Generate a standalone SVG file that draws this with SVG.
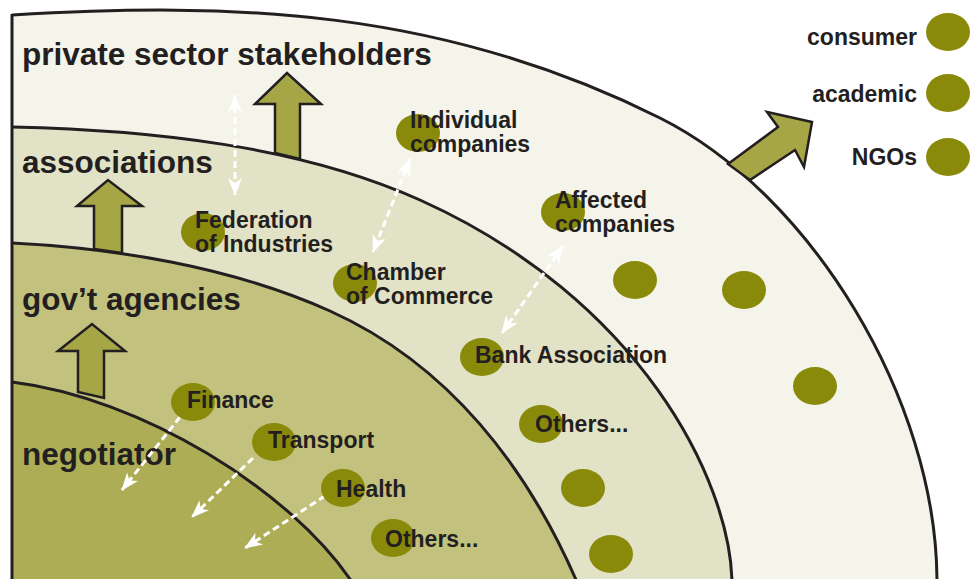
<svg xmlns="http://www.w3.org/2000/svg" width="970" height="579" viewBox="0 0 970 579">
<defs>
<style>
.t{font-family:"Liberation Sans",Arial,Helvetica,sans-serif;font-weight:bold;fill:#231f20}
.big{font-size:31.5px}
.lbl{font-size:23px}
.edge{fill:none;stroke:#231f20;stroke-width:3}
.blk{fill:#a6a646;stroke:#231f20;stroke-width:2.5;stroke-linejoin:miter}
.dot{fill:#8a8a0a}
.dash{fill:none;stroke:#ffffff;stroke-width:3;stroke-dasharray:7 4}
</style>
<marker id="ah" viewBox="0 0 18 14" refX="17" refY="7" markerWidth="18" markerHeight="14" markerUnits="userSpaceOnUse" orient="auto-start-reverse">
<path d="M0,0 L18,7 L0,14 L5,7Z" fill="#ffffff"/>
</marker>
</defs>
<rect width="970" height="579" fill="#ffffff"/>
<g id="region-private">
<path d="M12,15 C232,2 440,8 660,118 C810,193 937,399 937,582 L12,582Z" fill="#f4f4eb"/>
<path class="edge" d="M12,15 C232,2 440,8 660,118 C810,193 937,399 937,582"/>
<text class="t big" x="22" y="65">private sector stakeholders</text>
</g>
<g id="region-associations">
<path d="M12,127 C152,130 300,146 420,200 C640,299 730,480 732,582 L12,582Z" fill="#e2e2c6"/>
<path class="edge" d="M12,127 C152,130 300,146 420,200 C640,299 730,480 732,582"/>
<text class="t big" x="22" y="173">associations</text>
</g>
<g id="region-gov">
<path d="M12,243 C112,248 230,266 330,311 C450,365 528,469 577,582 L12,582Z" fill="#c2c27e"/>
<path class="edge" d="M12,243 C112,248 230,266 330,311 C450,365 528,469 577,582"/>
<text class="t big" x="22" y="310">gov’t agencies</text>
</g>
<g id="region-negotiator">
<path d="M12,382 C142,398 290,490 352,582 L12,582Z" fill="#adad55"/>
<path class="edge" d="M12,382 C142,398 290,490 352,582"/>
<text class="t big" x="22" y="465">negotiator</text>
</g>
<line x1="12" y1="14" x2="12" y2="579" stroke="#231f20" stroke-width="3"/>
<g id="connectors">
<polygon class="blk" points="275,153 275,104 255,104 287,73 321,104 300,104 300,159"/>
<polygon class="blk" points="94,249 94,206 77,206 108,180 142,206 122,206 122,253"/>
<polygon class="blk" points="78,392 78,351 58,351 92,324 125,351 104,351 104,398"/>
<polygon class="blk" points="728,164 778,127 767,112 812,122 804,167 795,150 750,180"/>
<line class="dash" x1="235" y1="95" x2="235" y2="195" marker-start="url(#ah)" marker-end="url(#ah)"/>
<line class="dash" x1="410" y1="159" x2="373" y2="252" marker-start="url(#ah)" marker-end="url(#ah)"/>
<line class="dash" x1="563" y1="246" x2="502" y2="333" marker-start="url(#ah)" marker-end="url(#ah)"/>
<line class="dash" x1="180" y1="417" x2="122" y2="490" marker-end="url(#ah)"/>
<line class="dash" x1="253" y1="458" x2="192" y2="517" marker-end="url(#ah)"/>
<line class="dash" x1="325" y1="496" x2="245" y2="548" marker-end="url(#ah)"/>
</g>
<g id="n-individual"><ellipse class="dot" cx="418" cy="133" rx="22" ry="19"/><text class="t lbl" x="410" y="128">Individual</text><text class="t lbl" x="410" y="152">companies</text></g>
<g id="n-federation"><ellipse class="dot" cx="203" cy="232" rx="22" ry="19"/><text class="t lbl" x="195" y="228">Federation</text><text class="t lbl" x="195" y="252">of Industries</text></g>
<g id="n-affected"><ellipse class="dot" cx="563" cy="212" rx="22" ry="19"/><text class="t lbl" x="555" y="208">Affected</text><text class="t lbl" x="555" y="232">companies</text></g>
<g id="n-chamber"><ellipse class="dot" cx="355" cy="283" rx="22" ry="19"/><text class="t lbl" x="346" y="280">Chamber</text><text class="t lbl" x="346" y="304">of Commerce</text></g>
<g id="n-bank"><ellipse class="dot" cx="482" cy="357" rx="22" ry="19"/><text class="t lbl" x="475" y="363">Bank Association</text></g>
<g id="n-others-assoc"><ellipse class="dot" cx="541" cy="424" rx="22" ry="19"/><text class="t lbl" x="535" y="432">Others...</text></g>
<g id="n-dot-a1"><ellipse class="dot" cx="583" cy="488" rx="22" ry="19"/></g>
<g id="n-dot-a2"><ellipse class="dot" cx="611" cy="554" rx="22" ry="19"/></g>
<g id="n-dot-p1"><ellipse class="dot" cx="635" cy="280" rx="22" ry="19"/></g>
<g id="n-dot-p2"><ellipse class="dot" cx="744" cy="290" rx="22" ry="19"/></g>
<g id="n-dot-p3"><ellipse class="dot" cx="815" cy="386" rx="22" ry="19"/></g>
<g id="n-finance"><ellipse class="dot" cx="193" cy="402" rx="22" ry="19"/><text class="t lbl" x="187" y="408">Finance</text></g>
<g id="n-transport"><ellipse class="dot" cx="274" cy="442" rx="22" ry="19"/><text class="t lbl" x="268" y="448">Transport</text></g>
<g id="n-health"><ellipse class="dot" cx="343" cy="488" rx="22" ry="19"/><text class="t lbl" x="336" y="497">Health</text></g>
<g id="n-others-gov"><ellipse class="dot" cx="393" cy="538" rx="22" ry="19"/><text class="t lbl" x="385" y="547">Others...</text></g>
<g id="legend-consumer"><ellipse class="dot" cx="948" cy="32" rx="22" ry="19"/><text class="t lbl" x="917" y="45" text-anchor="end">consumer</text></g>
<g id="legend-academic"><ellipse class="dot" cx="948" cy="93" rx="22" ry="19"/><text class="t lbl" x="917" y="102" text-anchor="end">academic</text></g>
<g id="legend-ngos"><ellipse class="dot" cx="948" cy="157" rx="22" ry="19"/><text class="t lbl" x="917" y="165" text-anchor="end">NGOs</text></g>
</svg>
